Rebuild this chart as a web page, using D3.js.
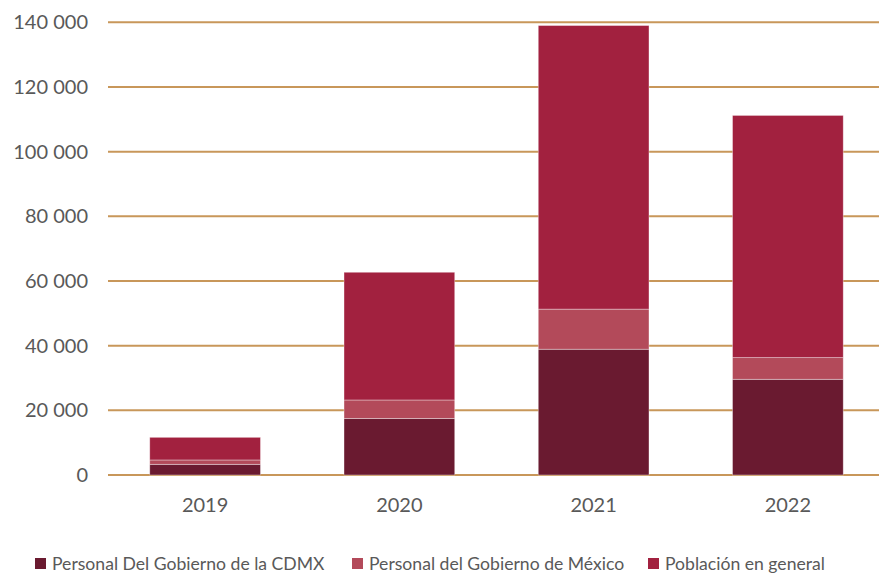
<!DOCTYPE html>
<html><head><meta charset="utf-8">
<script src="https://cdn.jsdelivr.net/npm/d3@7"></script>
<style>body{margin:0;background:#fff}svg{display:block}text{font-family:"Source Sans Pro",Lato,"Noto Sans",sans-serif;fill:#595959}</style>
</head><body><svg id="c" width="879" height="577"></svg>
<script>
const categories = ["2019","2020","2021","2022"];
const seriesNames = ["Personal Del Gobierno de la CDMX","Personal del Gobierno de México","Población en general"];
const cdmx = [3300, 17500, 38900, 29600];
const mexico = [1350, 5700, 12400, 6700];
const poblacion = [7000, 39500, 87700, 74900];
const yTicks = [0,20000,40000,60000,80000,100000,120000,140000];
const colors = ["#6a1a30","#b34a5a","#a2213f"];

const svg = d3.select("#c");
const x = d3.scaleBand().domain(categories).range([108,885]).paddingInner(0.43).paddingOuter(0.215);
const y = d3.scaleLinear().domain([0,140000]).range([475,22.3]);

const fmt = v => d3.format(",")(v).replace(/,/g," ");

// gridlines
svg.append("g").selectAll("line").data(yTicks).join("line")
  .attr("x1",108).attr("x2",879).attr("y1",d=>y(d)).attr("y2",d=>y(d))
  .attr("stroke","#c8975a").attr("stroke-width",2);

// y labels
svg.append("g").selectAll("text").data(yTicks).join("text")
  .attr("x",88).attr("y",d=>y(d)).attr("dy","0.35em").attr("text-anchor","end")
  .style("font-size","20px").text(fmt);

const table = categories.map((c,i)=>({cat:c, s0:cdmx[i], s1:mexico[i], s2:poblacion[i]}));
const stacked = d3.stack().keys(["s0","s1","s2"])(table);

svg.append("g").selectAll("g").data(stacked).join("g")
  .attr("fill",(d,i)=>colors[i])
  .selectAll("rect").data(d=>d).join("rect")
  .attr("x",d=>x(d.data.cat)).attr("width",x.bandwidth())
  .attr("y",d=>y(d[1])).attr("height",d=>y(d[0])-y(d[1]))
  .attr("stroke","rgba(255,255,255,0.45)").attr("stroke-width",0.8);

// x labels
svg.append("g").selectAll("text").data(categories).join("text")
  .attr("x",d=>x(d)+x.bandwidth()/2).attr("y",512).attr("text-anchor","middle")
  .style("font-size","20px").text(d=>d);

// legend
const leg = svg.append("g");
const legX = [35, 352, 648];
seriesNames.forEach((n,i)=>{
  leg.append("rect").attr("x",legX[i]).attr("y",558).attr("width",11).attr("height",11).attr("fill",colors[i]);
  leg.append("text").attr("x",legX[i]+17).attr("y",564).attr("dy","0.35em").style("font-size","17.6px").text(n);
});
</script></body></html>
